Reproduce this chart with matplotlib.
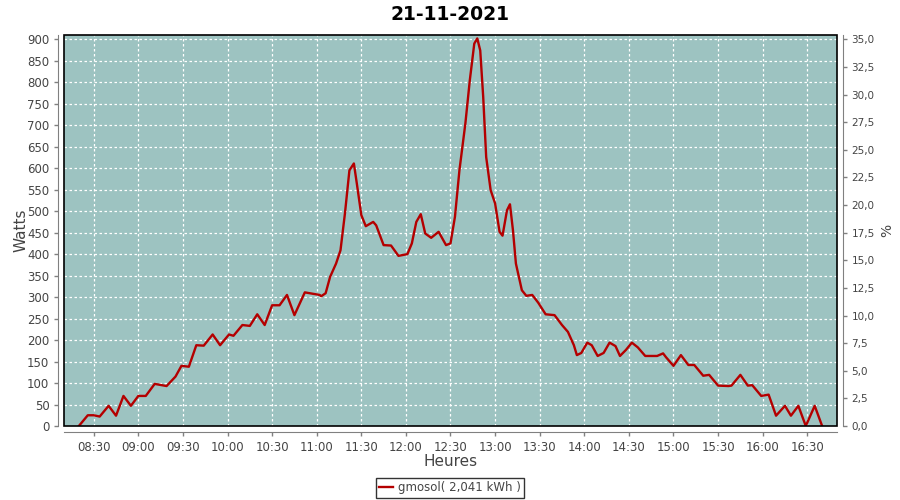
import numpy as np
import matplotlib
matplotlib.use('Agg')
import matplotlib.pyplot as plt
import matplotlib.dates as mdates
from matplotlib.ticker import FuncFormatter, MultipleLocator
from matplotlib.patches import Rectangle
import pandas as pd

day = '2021-11-21'
times = ['08:20', '08:26', '08:30', '08:34', '08:40', '08:45', '08:50', '08:55',
         '09:00', '09:05', '09:11', '09:19', '09:25', '09:29', '09:34', '09:39',
         '09:44', '09:50', '09:55', '10:01', '10:04', '10:10', '10:15', '10:20',
         '10:25', '10:30', '10:35', '10:40', '10:45', '10:52', '11:02', '11:03',
         '11:06', '11:09', '11:13', '11:16', '11:19', '11:22', '11:25', '11:27',
         '11:30', '11:33', '11:38', '11:40', '11:45', '11:50', '11:55', '12:01',
         '12:04', '12:07', '12:10', '12:13', '12:17', '12:22', '12:27', '12:30',
         '12:33', '12:36', '12:40', '12:43', '12:46', '12:48', '12:50', '12:52',
         '12:54', '12:57', '13:00', '13:03', '13:05', '13:08', '13:10', '13:12',
         '13:14', '13:18', '13:21', '13:25', '13:29', '13:34', '13:40', '13:45',
         '13:49', '13:53', '13:55', '13:58', '14:02', '14:05', '14:09', '14:13',
         '14:17', '14:21', '14:24', '14:28', '14:32', '14:36', '14:41', '14:45',
         '14:49', '14:53', '14:55', '15:00', '15:05', '15:10', '15:14', '15:20',
         '15:24', '15:30', '15:37', '15:39', '15:45', '15:50', '15:53', '15:59',
         '16:04', '16:09', '16:15', '16:19', '16:24', '16:29', '16:35', '16:40']
watts = [0, 25, 25, 22, 47, 24, 70, 47,
         70, 70, 98, 93, 115, 140, 138, 188,
         187, 213, 188, 213, 210, 235, 233, 260,
         235, 281, 281, 305, 258, 311, 305, 302,
         309, 347, 378, 409, 495, 595, 611, 564,
         491, 465, 475, 467, 421, 420, 396, 400,
         425, 475, 493, 448, 438, 452, 421, 425,
         487, 595, 704, 805, 890, 902, 874, 766,
         626, 549, 518, 452, 443, 502, 516, 456,
         378, 316, 303, 305, 287, 260, 258, 235,
         219, 188, 165, 170, 194, 188, 163, 170,
         194, 186, 163, 177, 194, 183, 163, 163,
         163, 169, 160, 140, 165, 142, 142, 117,
         119, 94, 93, 94, 119, 94, 95, 70,
         73, 24, 47, 24, 47, 0, 47, 0]

series_name = 'gmosol( 2,041 kWh )'
title = '21-11-2021'

t = pd.to_datetime([day + ' ' + s for s in times])

fig = plt.figure(figsize=(9, 5), dpi=100)
ax = fig.add_axes([64 / 900, 74 / 500, 773 / 900, 391 / 500])
ax.set_facecolor('#9dc3c1')

ax.plot(t, watts, color='#b40000', lw=1.7)

ax.set_xlim(pd.Timestamp(day + ' 08:10'), pd.Timestamp(day + ' 16:50'))
ax.set_ylim(0, 910)
ax.yaxis.set_major_locator(MultipleLocator(50))
ax.xaxis.set_major_locator(mdates.MinuteLocator(byminute=[0, 30]))
ax.xaxis.set_major_formatter(mdates.DateFormatter('%H:%M'))

ax.grid(True, color='white', ls=(0, (2, 2)), lw=0.9)

grey = '#808080'
txt = '#444444'
for side in ['left', 'bottom']:
    ax.spines[side].set_position(('outward', 4))
    ax.spines[side].set_color(grey)
ax.spines['top'].set_visible(False)
ax.spines['right'].set_visible(False)
ax.add_patch(Rectangle((0, 0), 1, 1, transform=ax.transAxes, fill=False,
                       edgecolor='black', lw=1.2, clip_on=False, zorder=5))
ax.tick_params(colors=grey, labelcolor=txt, labelsize=8.5, length=3, width=1)

sec = ax.secondary_yaxis('right', functions=(lambda w: w * 35 / 900, lambda p: p * 900 / 35))
sec.spines['right'].set_position(('outward', 4))
sec.spines['right'].set_color(grey)
sec.yaxis.set_major_locator(MultipleLocator(2.5))
sec.yaxis.set_major_formatter(FuncFormatter(lambda v, p: f'{v:.1f}'.replace('.', ',')))
sec.tick_params(colors=grey, labelcolor=txt, labelsize=7.5, length=3, width=1)
sec.set_ylabel('%', color=txt, fontsize=10, labelpad=4)

ax.set_ylabel('Watts', color=txt, fontsize=11, labelpad=-1)
ax.set_xlabel('Heures', color=txt, fontsize=11, labelpad=0)
fig.suptitle(title, fontsize=13.5, fontweight='bold', y=0.99)

leg = fig.legend([ax.lines[0]], [series_name], loc='center', bbox_to_anchor=(0.5, 0.024),
                 frameon=True, fancybox=False, fontsize=8.5, handlelength=1.2,
                 handletextpad=0.4, borderpad=0.3, labelcolor=txt)
leg.get_frame().set_edgecolor('black')
leg.get_frame().set_linewidth(1)

fig.savefig('out.png', dpi=100)
